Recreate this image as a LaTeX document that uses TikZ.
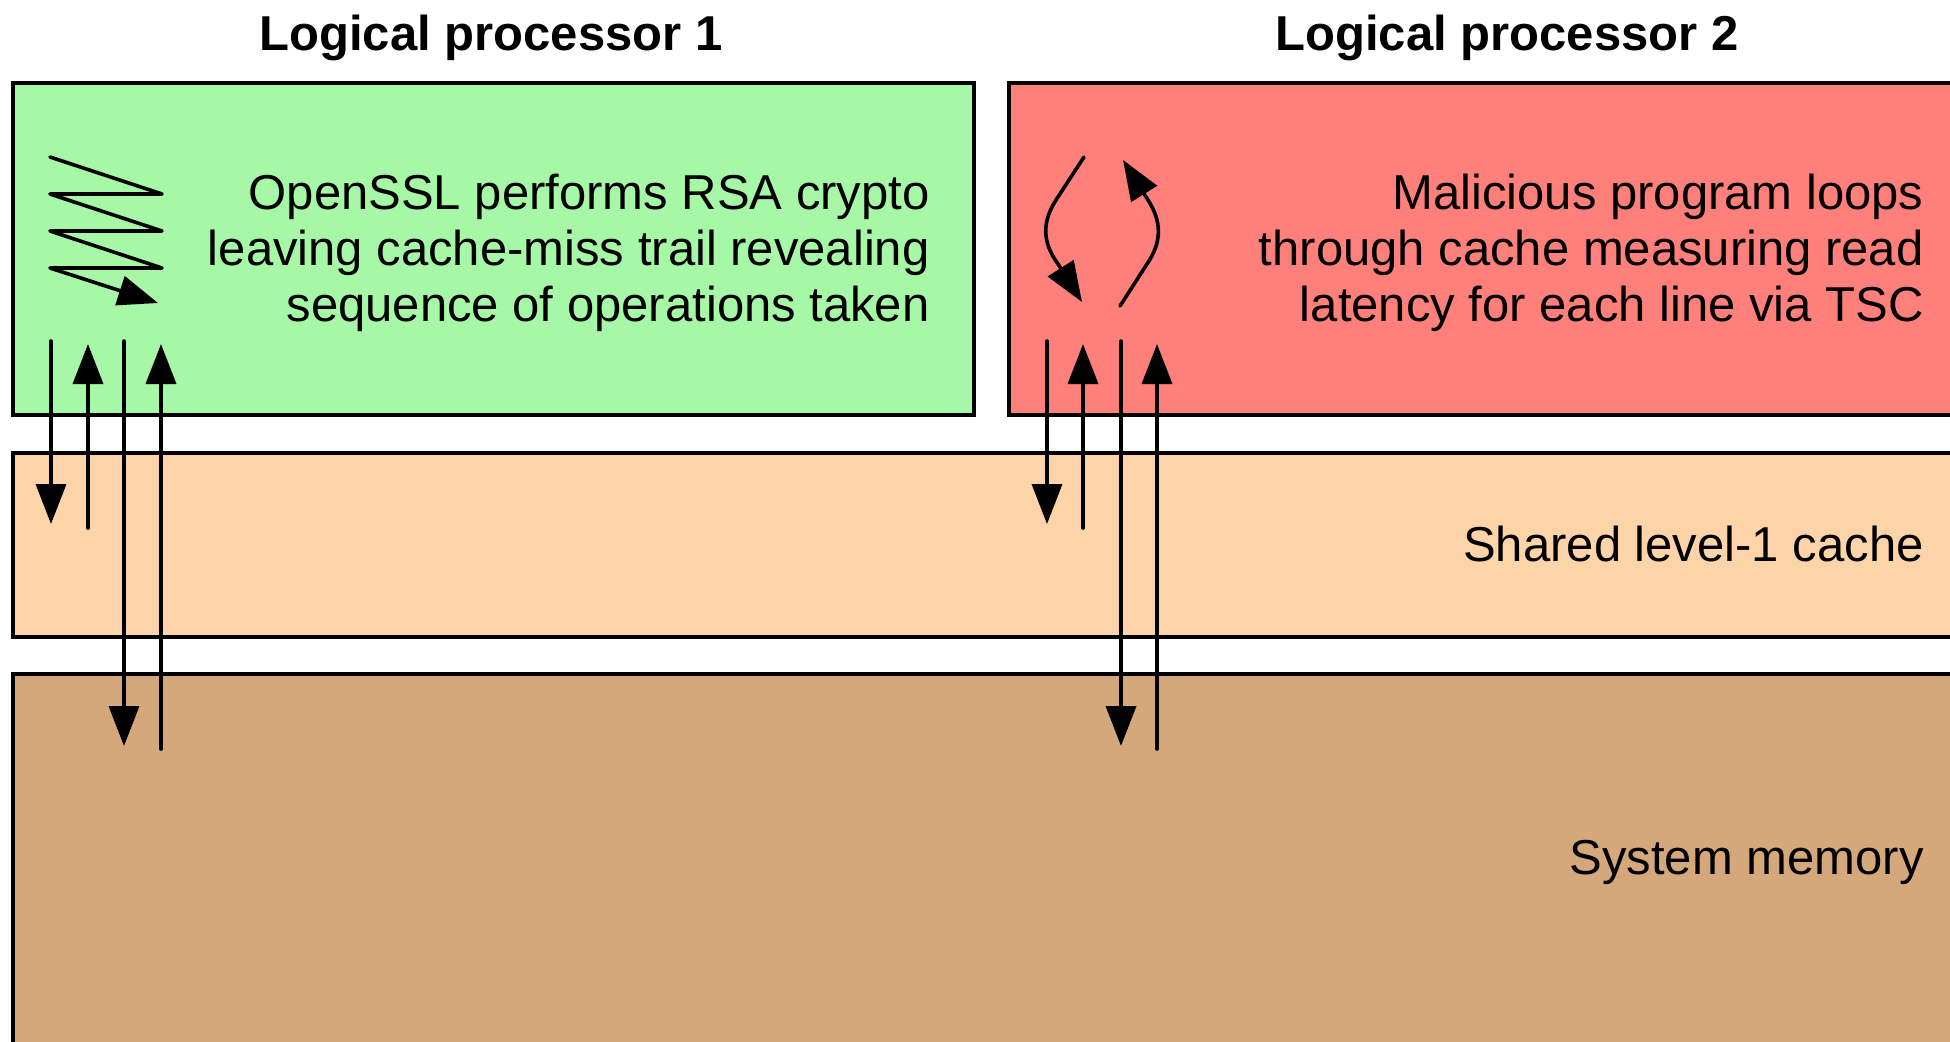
\documentclass[tikz,border=0pt]{standalone}
\usepackage{fontspec}
\setmainfont{Liberation Sans}
\usetikzlibrary{arrows.meta}
\definecolor{cpuone}{RGB}{166,248,166}
\definecolor{cputwo}{RGB}{255,128,122}
\definecolor{cachecol}{RGB}{253,211,168}
\definecolor{memcol}{RGB}{212,168,122}

\begin{document}
\begin{tikzpicture}[x=0.5pt,y=-0.5pt,
  layer/.style={draw=black, line width=2pt, rectangle, anchor=north west,
    inner sep=0pt, outer sep=0pt},
  flow/.style={line width=1.8pt, line join=round, line cap=round,
    -{Triangle[length=20pt,width=15pt]}},
  bodytext/.style={font=\fontsize{24.5pt}{28pt}\selectfont, inner sep=0pt,
    align=right, anchor=east},
  heading/.style={font=\bfseries\fontsize{24.5pt}{28pt}\selectfont, inner sep=0pt}]

\clip (0,0) rectangle (1950,1041);
\useasboundingbox (0,0) rectangle (1950,1041);

% stacked hardware layers
\node[layer, fill=cpuone, minimum width=480.5pt, minimum height=166pt] (lp1) at (13,83) {};
\node[layer, fill=cputwo, minimum width=498pt, minimum height=166pt] (lp2) at (1009,83) {};
\node[layer, fill=cachecol, minimum width=996pt, minimum height=92pt] (l1) at (13,453) {};
\node[layer, fill=memcol, minimum width=996pt, minimum height=193pt] (mem) at (13,674) {};

% headings
\node[heading] (h1) at (491,38) {Logical processor 1};
\node[heading] (h2) at (1507,38) {Logical processor 2};

% descriptions
\node[bodytext] (t1) at (930,253) {OpenSSL performs RSA crypto\\leaving cache-miss trail revealing\\sequence of operations taken};
\node[bodytext] (t2) at (1924,253) {Malicious program loops\\through cache measuring read\\latency for each line via TSC};
\node[bodytext] (t3) at (1924,544) {Shared level-1 cache};
\node[bodytext] (t4) at (1924,862) {System memory};

% zigzag trail of the victim
\coordinate (z0) at (50,157);
\coordinate (z1) at (162,194);
\coordinate (z2) at (50,194);
\coordinate (z3) at (162,231);
\coordinate (z4) at (50,231);
\coordinate (z5) at (162,268);
\coordinate (z6) at (50,268);
\coordinate (z7) at (158,303);
\draw[flow] (z0) -- (z1) -- (z2) -- (z3) -- (z4) -- (z5) -- (z6) -- (z7);

% looping of the spy
\coordinate (s0) at (1084,157);
\coordinate (s1) at (1082,302);
\coordinate (s2) at (1120,306);
\coordinate (s3) at (1123,160);
\draw[flow] (s0) -- (1056,200) .. controls (1042,222) and (1042,242) .. (1058,264) -- (s1);
\draw[flow] (s2) -- (1147,264) .. controls (1162,242) and (1162,222) .. (1148,200) -- (s3);

% memory traffic, processor 1
\coordinate (a1s) at (51,341);  \coordinate (a1e) at (51,524);
\coordinate (a2s) at (88,528);  \coordinate (a2e) at (88,344);
\coordinate (a3s) at (124,341); \coordinate (a3e) at (124,746);
\coordinate (a4s) at (161,749); \coordinate (a4e) at (161,344);
\draw[flow] (a1s) -- (a1e);
\draw[flow] (a2s) -- (a2e);
\draw[flow] (a3s) -- (a3e);
\draw[flow] (a4s) -- (a4e);

% memory traffic, processor 2
\coordinate (b1s) at (1047,341); \coordinate (b1e) at (1047,524);
\coordinate (b2s) at (1083,528); \coordinate (b2e) at (1083,344);
\coordinate (b3s) at (1121,341); \coordinate (b3e) at (1121,746);
\coordinate (b4s) at (1157,749); \coordinate (b4e) at (1157,344);
\draw[flow] (b1s) -- (b1e);
\draw[flow] (b2s) -- (b2e);
\draw[flow] (b3s) -- (b3e);
\draw[flow] (b4s) -- (b4e);
\end{tikzpicture}
\end{document}
